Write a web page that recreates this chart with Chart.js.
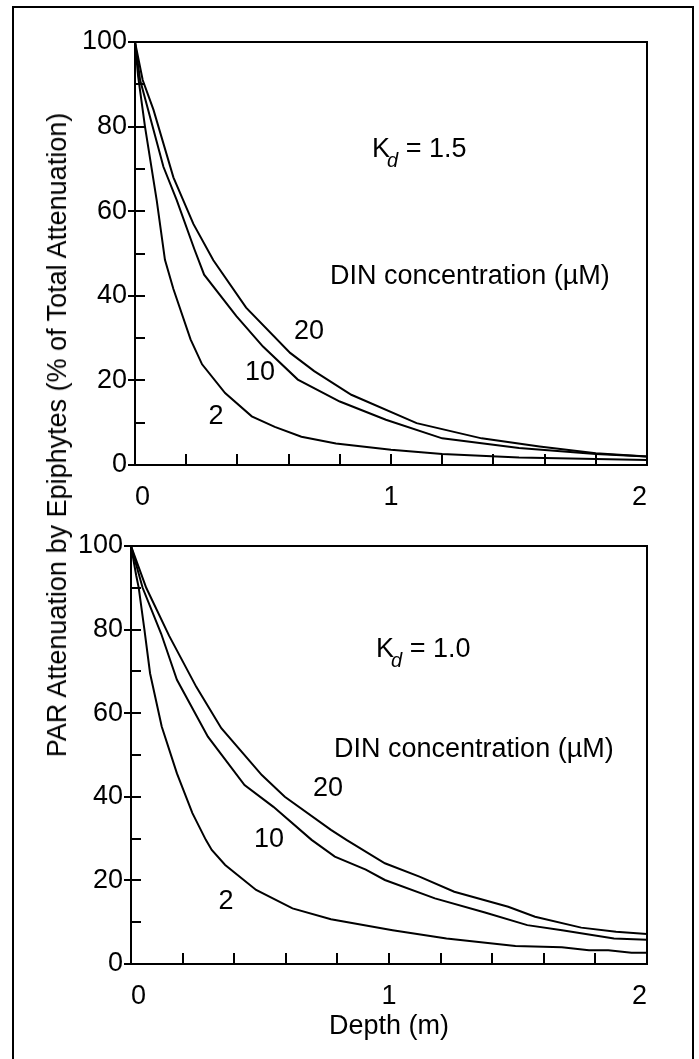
<!DOCTYPE html>
<html><head><meta charset="utf-8">
<script src="https://cdn.jsdelivr.net/npm/chart.js@4.4.1/dist/chart.umd.min.js"></script>
<style>
html,body{margin:0;padding:0;background:#fff;}
#wrap{position:relative;width:699px;height:1059px;overflow:hidden;font-family:"Liberation Sans",Arial,Helvetica,sans-serif;}
#frame{position:absolute;left:12px;top:6px;width:682px;height:1100px;border:2px solid #000;box-sizing:border-box;}
#ytitle{position:absolute;left:57px;top:435px;transform:translate(-50%,-50%) rotate(-90deg);white-space:nowrap;font-size:27px;line-height:30px;color:#000;}
canvas{position:absolute;left:0;}
</style></head>
<body><div id="wrap">
<div id="frame"></div>
<canvas id="c1" width="699" height="520" style="top:0"></canvas>
<canvas id="c2" width="699" height="539" style="top:520px"></canvas>
<div id="ytitle">PAR Attenuation by Epiphytes (% of Total Attenuation)</div>
</div>
<script>
// ---- data (depth m, % of total attenuation) ----
const dinLevels = ['2', '10', '20'];
const kdTop = '1.5';
const kdBottom = '1.0';
const xLabelValues = [0, 1, 2];
const yLabelValues = [0, 20, 40, 60, 80, 100];

const kd15_din2  = [[0,100],[0.012,92],[0.039,80],[0.085,62.5],[0.117,48.5],[0.15,41.6],[0.217,29.7],[0.262,23.8],[0.352,17],[0.456,11.5],[0.546,9],[0.65,6.7],[0.785,5.1],[1.0,3.6],[1.2,2.6],[1.5,1.8],[2.0,1.2]];
const kd15_din10 = [[0,100],[0.02,91],[0.111,70.5],[0.163,62.6],[0.232,51],[0.27,45],[0.396,35.2],[0.5,28],[0.636,20.2],[0.8,15],[0.98,10.7],[1.2,6.3],[1.5,4],[1.8,2.6],[2.0,2.0]];
const kd15_din20 = [[0,100],[0.03,91],[0.072,84],[0.15,68],[0.228,57],[0.306,48.4],[0.434,37.2],[0.606,26.5],[0.7,22.2],[0.845,16.6],[1.1,9.9],[1.354,6.3],[1.58,4.4],[1.8,2.8],[2.0,2.0]];

const kd10_din2  = [[0,100],[0.02,93],[0.03,90],[0.052,80],[0.074,69.5],[0.119,56.8],[0.178,45.6],[0.238,36.1],[0.29,29.7],[0.313,27.3],[0.365,23.7],[0.485,17.7],[0.626,13.3],[0.775,10.7],[1.014,8.1],[1.223,6.1],[1.49,4.3],[1.67,4.0],[1.775,3.3],[1.85,3.3],[1.94,2.7],[2.0,2.7]];
const kd10_din10 = [[0,100],[0.045,90],[0.117,79],[0.178,68],[0.298,54.4],[0.44,42.8],[0.552,37.6],[0.7,29.7],[0.79,25.7],[0.91,22.6],[0.984,20.1],[1.178,15.7],[1.372,12.3],[1.536,9.3],[1.671,8.1],[1.872,6.1],[2.0,5.8]];
const kd10_din20 = [[0,100],[0.059,90],[0.148,78.5],[0.253,66.3],[0.35,56.4],[0.507,45.2],[0.596,40],[0.775,32.1],[0.835,29.7],[0.984,24.1],[1.118,20.9],[1.253,17.3],[1.462,13.7],[1.566,11.3],[1.745,8.7],[1.88,7.7],[2.0,7.2]];

// ---- rendering ----
const FONT = '"Liberation Sans", Arial, Helvetica, sans-serif';
Chart.defaults.font.family = FONT;
Chart.defaults.font.size = 27;
Chart.defaults.color = '#000';

const framePlugin = {
  id: 'frameTicks',
  afterDraw(chart) {
    const {ctx, chartArea: a, scales: {x, y}} = chart;
    ctx.save();
    ctx.strokeStyle = '#000';
    ctx.lineWidth = 2;
    ctx.beginPath();
    ctx.rect(a.left, a.top, a.right - a.left, a.bottom - a.top);
    ctx.stroke();
    ctx.beginPath();
    y.ticks.forEach(t => {
      const py = Math.round(y.getPixelForValue(t.value));
      const major = t.label !== '';
      ctx.moveTo(a.left - (major ? 7 : 0), py);
      ctx.lineTo(a.left + 10, py);
    });
    x.ticks.forEach(t => {
      const px = Math.round(x.getPixelForValue(t.value));
      ctx.moveTo(px, a.bottom);
      ctx.lineTo(px, a.bottom - 11);
    });
    ctx.stroke();
    ctx.restore();
  }
};

const notesPlugin = {
  id: 'notes',
  afterDatasetsDraw(chart, args, opts) {
    const {ctx, scales: {x, y}} = chart;
    ctx.save();
    ctx.fillStyle = '#000';
    (opts.items || []).forEach(n => {
      const px = x.getPixelForValue(n.x), py = y.getPixelForValue(n.y);
      ctx.font = '27px ' + FONT;
      if (n.sub) {
        ctx.textAlign = 'left'; ctx.textBaseline = 'alphabetic';
        ctx.fillText(n.text, px, py);
        const w = ctx.measureText(n.text).width;
        ctx.font = 'italic 20px ' + FONT;
        ctx.fillText(n.sub, px + w - 3, py + 10);
        const w2 = ctx.measureText(n.sub).width;
        ctx.font = '27px ' + FONT;
        ctx.fillText(n.after, px + w - 3 + w2, py);
      } else {
        ctx.textAlign = n.align || 'center';
        ctx.textBaseline = 'middle';
        ctx.fillText(n.text, px, py);
      }
    });
    ctx.restore();
  }
};

function panel(id, series, geom, notes, showTitle) {
  return new Chart(document.getElementById(id), {
    type: 'scatter',
    data: {
      datasets: series.map((pts, i) => ({
        label: 'DIN ' + dinLevels[i],
        data: pts.map(p => ({x: p[0], y: p[1]})),
        showLine: true, borderColor: '#000', borderWidth: 2,
        pointRadius: 0, tension: 0, fill: false
      }))
    },
    options: {
      responsive: false, animation: false, devicePixelRatio: 1,
      layout: {padding: {left: 0, top: geom.top, right: geom.right, bottom: 0}},
      plugins: {legend: {display: false}, tooltip: {enabled: false}, notes: {items: notes}},
      scales: {
        x: {
          type: 'linear', min: 0, max: 2,
          grid: {display: false, drawTicks: false}, border: {display: false},
          ticks: {stepSize: 0.2, autoSkip: false, maxRotation: 0, align: 'inner', padding: 16,
            callback: v => xLabelValues.some(l => Math.abs(l - v) < 1e-6) ? String(Math.round(v)) : ''},
          title: showTitle ? {display: true, text: 'Depth (m)', font: {size: 27}, padding: {top: 0, bottom: 16}} : {display: false},
          afterFit: s => { s.height = geom.xh; }
        },
        y: {
          type: 'linear', min: 0, max: 100,
          grid: {display: false, drawTicks: false}, border: {display: false},
          ticks: {stepSize: 10, autoSkip: false, padding: 8,
            callback: v => yLabelValues.includes(v) ? String(v) : ''},
          afterFit: s => { s.width = geom.left; }
        }
      }
    },
    plugins: [framePlugin, notesPlugin]
  });
}

panel('c1', [kd15_din2, kd15_din10, kd15_din20],
  {top: 42, right: 52, left: 135, xh: 55},
  [
    {x: 0.926, y: 72.8, text: 'K', sub: 'd', after: ' = ' + kdTop},
    {x: 0.762, y: 44.5, text: 'DIN concentration (\u00b5M)', align: 'left'},
    {x: 0.68, y: 31.5, text: dinLevels[2]},
    {x: 0.488, y: 21.9, text: dinLevels[1]},
    {x: 0.316, y: 11.4, text: dinLevels[0]}
  ], false);

panel('c2', [kd10_din2, kd10_din10, kd10_din20],
  {top: 26, right: 52, left: 131, xh: 95},
  [
    {x: 0.95, y: 73.4, text: 'K', sub: 'd', after: ' = ' + kdBottom},
    {x: 0.787, y: 51.2, text: 'DIN concentration (\u00b5M)', align: 'left'},
    {x: 0.764, y: 41.9, text: dinLevels[2]},
    {x: 0.535, y: 29.7, text: dinLevels[1]},
    {x: 0.368, y: 14.9, text: dinLevels[0]}
  ], true);
</script>
</body></html>
